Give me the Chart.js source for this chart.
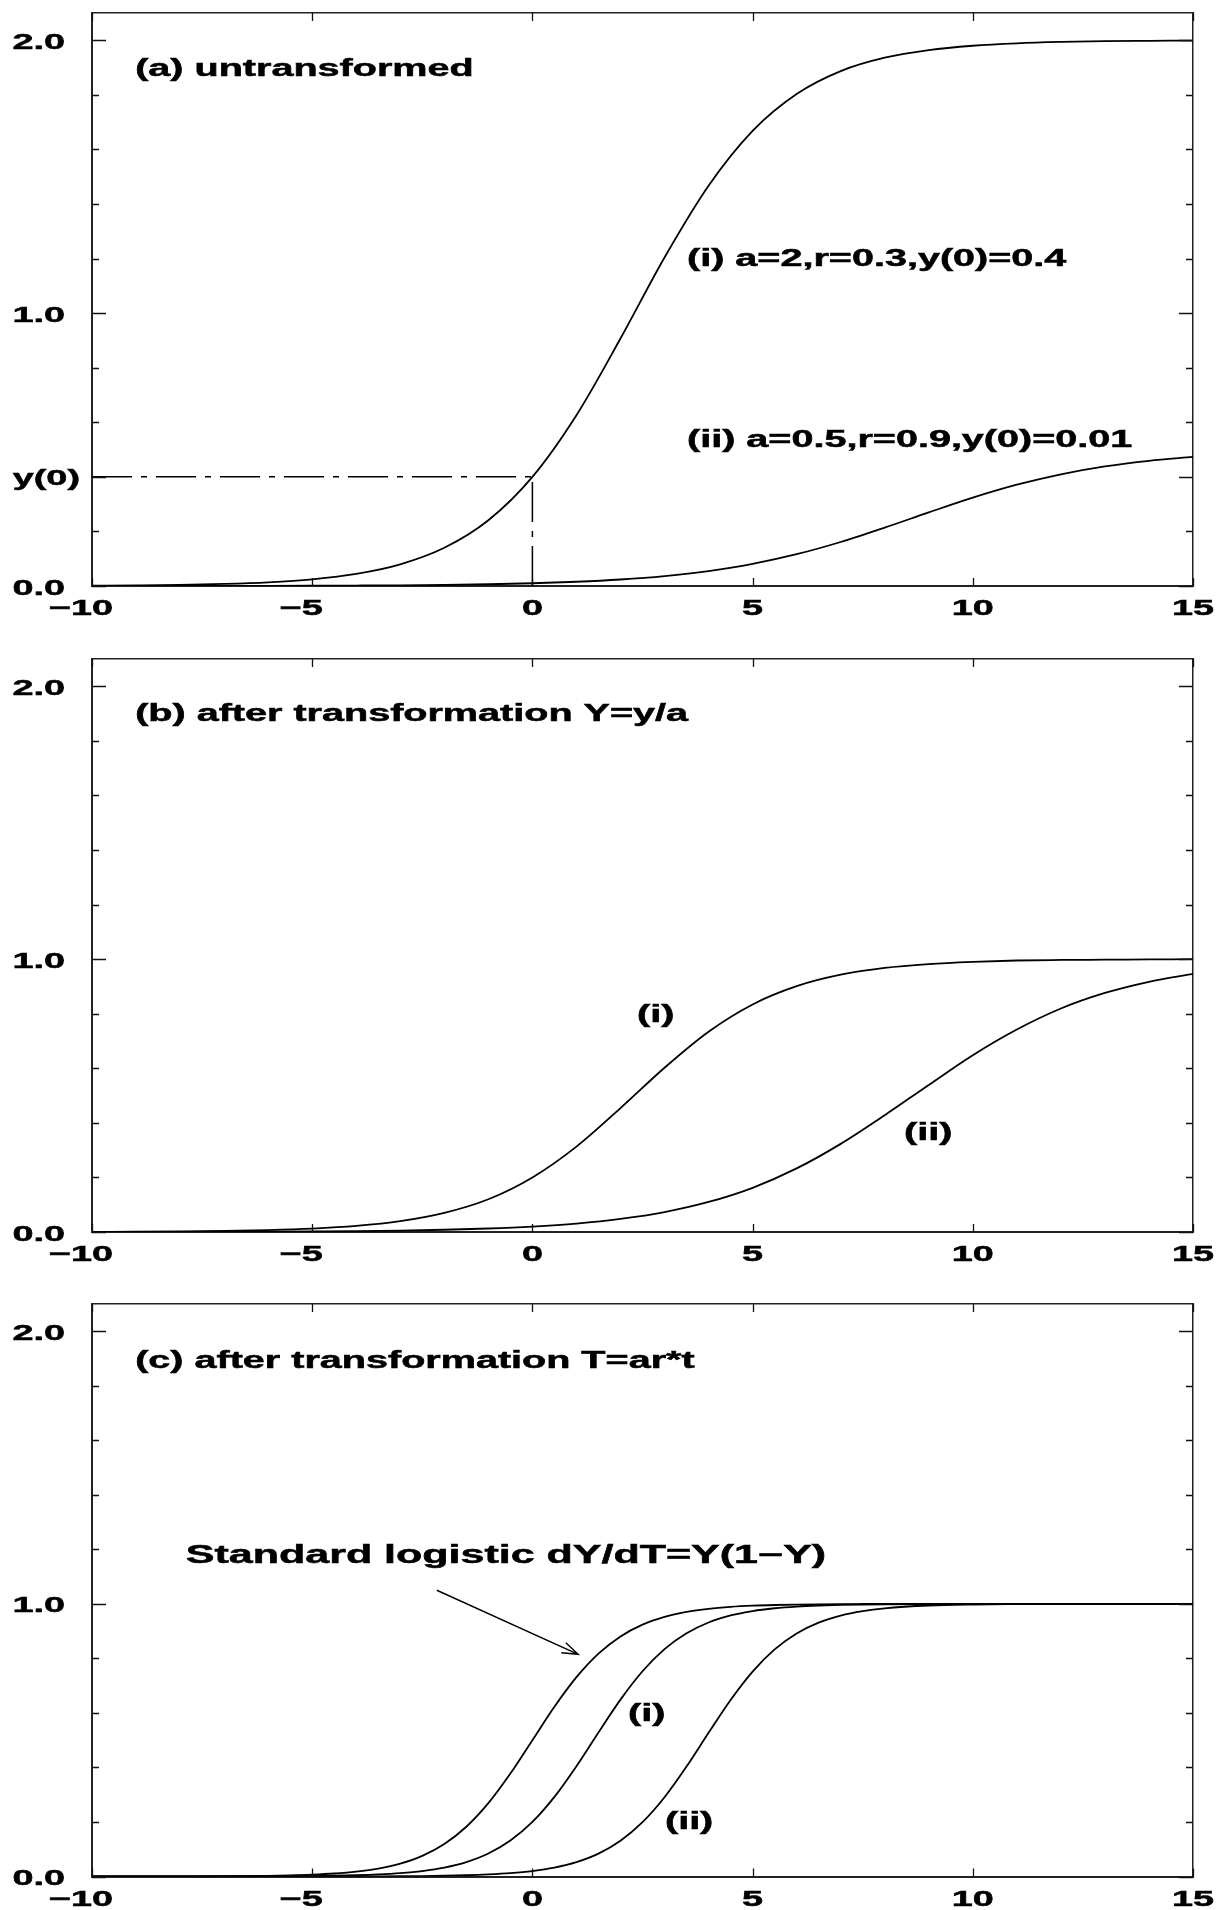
<!DOCTYPE html>
<html>
<head>
<meta charset="utf-8">
<style>
  html, body { margin: 0; padding: 0; background: #fff; overflow: hidden; }
  #wrap { position: relative; width: 1227px; height: 1910px; overflow: hidden; }
  .panel { position: absolute; left: 0; }
</style>
</head>
<body>
<div id="wrap">
  <canvas id="chartA" class="panel" style="top:0px" width="1227" height="646"></canvas>
  <canvas id="chartB" class="panel" style="top:646px" width="1227" height="646"></canvas>
  <canvas id="chartC" class="panel" style="top:1291px" width="1227" height="619"></canvas>
</div>

<script src="https://cdn.jsdelivr.net/npm/chart.js"></script>
<script>
// time axis, one sample per unit
const tValues = [-10, -9, -8, -7, -6, -5, -4, -3, -2, -1, 0, 1, 2, 3, 4, 5, 6, 7, 8, 9, 10, 11, 12, 13, 14, 15];

// (a) untransformed curves
const yA1 = [0.0012, 0.0023, 0.0041, 0.0075, 0.0136, 0.0246, 0.0444, 0.0794, 0.140, 0.241, 0.400, 0.626, 0.907,
             1.204, 1.467, 1.668, 1.803, 1.887, 1.936, 1.964, 1.980, 1.989, 1.994, 1.997, 1.998, 1.999];
const yA2 = [0.0001, 0.0002, 0.0003, 0.0004, 0.0007, 0.0011, 0.0017, 0.0026, 0.0041, 0.0064, 0.0100, 0.0155, 0.0239,
             0.0365, 0.0549, 0.0811, 0.1165, 0.1613, 0.2138, 0.2697, 0.3238, 0.3712, 0.4094, 0.4382, 0.4587, 0.4729];
const y0Value = 0.4;

// (b) Y = y/a
const yB1 = [0.0006, 0.0011, 0.0021, 0.0037, 0.0068, 0.0123, 0.0222, 0.0397, 0.070, 0.120, 0.200, 0.313, 0.454,
             0.602, 0.734, 0.834, 0.901, 0.943, 0.968, 0.982, 0.990, 0.995, 0.997, 0.998, 0.999, 1.000];
const yB2 = [0.0002, 0.0004, 0.0006, 0.0009, 0.0014, 0.0021, 0.0034, 0.0053, 0.0082, 0.0128, 0.020, 0.031, 0.048,
             0.073, 0.110, 0.162, 0.233, 0.323, 0.428, 0.539, 0.648, 0.742, 0.819, 0.876, 0.917, 0.946];

// (c) T = ar*t, denser sampling where the curves are steep
const tC = [-10, -9, -8, -7, -6, -5.5, -5, -4.5, -4, -3.5, -3, -2.5, -2, -1.5, -1, -0.5, 0, 0.5, 1, 1.5, 2, 2.5,
            3, 3.5, 4, 4.5, 5, 5.5, 6, 6.5, 7, 7.5, 8, 9, 10, 11, 12, 13, 14, 15];
const yStd = [0.0000, 0.0001, 0.0003, 0.0009, 0.0025, 0.0041, 0.0067, 0.0110, 0.0180, 0.0293, 0.0474, 0.0759,
              0.1192, 0.1824, 0.2689, 0.3775, 0.5000, 0.6225, 0.7311, 0.8176, 0.8808, 0.9241, 0.9526, 0.9707,
              0.9820, 0.9890, 0.9933, 0.9959, 0.9975, 0.9985, 0.9991, 0.9995, 0.9997, 0.9999, 1.0, 1.0, 1.0, 1.0, 1.0, 1.0];
const yC1 = [0.0000, 0.0000, 0.0001, 0.0002, 0.0006, 0.0010, 0.0017, 0.0028, 0.0046, 0.0075, 0.0123, 0.0201,
             0.0327, 0.0528, 0.0842, 0.1317, 0.2000, 0.2919, 0.4046, 0.5284, 0.6488, 0.7528, 0.8339, 0.8922,
             0.9317, 0.9574, 0.9738, 0.9839, 0.9902, 0.9940, 0.9964, 0.9978, 0.9987, 0.9995, 0.9998, 0.9999, 1.0, 1.0, 1.0, 1.0];
const yC2 = [0.0000, 0.0000, 0.0000, 0.0000, 0.0001, 0.0001, 0.0001, 0.0002, 0.0004, 0.0006, 0.0010, 0.0017,
             0.0028, 0.0045, 0.0075, 0.0122, 0.0200, 0.0326, 0.0526, 0.0838, 0.1310, 0.1991, 0.2907, 0.4032,
             0.5270, 0.6475, 0.7517, 0.8331, 0.8917, 0.9314, 0.9572, 0.9736, 0.9838, 0.9940, 0.9978, 0.9992, 0.9997, 0.9999, 1.0, 1.0];

// ticks
const xTicks = [-10, -5, 0, 5, 10, 15];
const yTicks = [0, 0.2, 0.4, 0.6, 0.8, 1.0, 1.2, 1.4, 1.6, 1.8, 2.0];
const yLabelValues = [0, 1, 2];
const yLabelTexts = ['0.0', '1.0', '2.0'];

const SX = 1.72;   // wide lettering
const FONT = '"Liberation Sans", Arial, Helvetica, sans-serif';

function toPoints(xs, ys) {
  return xs.map((x, i) => ({ x: x, y: ys[i] }));
}

function wideText(ctx, text, x, y, size, align) {
  ctx.save();
  ctx.font = 'bold ' + size + 'px ' + FONT;
  ctx.fillStyle = '#000';
  ctx.strokeStyle = '#000';
  ctx.lineWidth = 0.5;
  ctx.textBaseline = 'alphabetic';
  ctx.textAlign = 'left';
  const w = ctx.measureText(text).width * SX;
  let left = x;
  if (align === 'right') left = x - w;
  else if (align === 'center') left = x - w / 2;
  ctx.translate(left, y);
  ctx.scale(SX, 1);
  ctx.fillText(text, 0, 0);
  ctx.strokeText(text, 0, 0);
  ctx.restore();
  return w;
}

// inward ticks, tick labels, notes and arrow
const framePlugin = {
  id: 'frame',
  afterDraw(chart, args, opts) {
    const { ctx, chartArea: a, scales: { x, y } } = chart;
    const labels = opts.yLabels || [];
    ctx.save();
    ctx.strokeStyle = '#111';
    ctx.lineWidth = 1.3;
    ctx.beginPath();
    yTicks.forEach(v => {
      const py = Math.round(y.getPixelForValue(v)) + 0.5;
      const major = labels.some(l => Math.abs(l.value - v) < 1e-6);
      const len = major ? 14 : 7;
      ctx.moveTo(a.left, py); ctx.lineTo(a.left + len, py);
      ctx.moveTo(a.right, py); ctx.lineTo(a.right - len, py);
    });
    xTicks.forEach(v => {
      const px = Math.round(x.getPixelForValue(v)) + 0.5;
      ctx.moveTo(px, a.bottom); ctx.lineTo(px, a.bottom - 8);
      ctx.moveTo(px, a.top); ctx.lineTo(px, a.top + 8);
    });
    ctx.stroke();
    ctx.restore();

    // y labels
    labels.forEach(l => {
      const py = y.getPixelForValue(l.value);
      wideText(ctx, l.text, a.left - l.gap, py + 8.5, 22, 'right');
    });

    // x labels, digits centred on the tick
    xTicks.forEach(v => {
      const px = x.getPixelForValue(v);
      ctx.save();
      ctx.font = 'bold 22px ' + FONT;
      const w = ctx.measureText(String(Math.abs(v))).width * SX;
      ctx.restore();
      const txt = v < 0 ? '\u2212' + Math.abs(v) : String(v);
      wideText(ctx, txt, px + w / 2, a.bottom + 29, 22, 'right');
    });

    // panel notes
    (opts.notes || []).forEach(n => {
      wideText(ctx, n.text, x.getPixelForValue(n.x), y.getPixelForValue(n.y), n.size || 23, 'left');
    });

    // arrow
    if (opts.arrow) {
      const x1 = x.getPixelForValue(opts.arrow.from[0]), y1 = y.getPixelForValue(opts.arrow.from[1]);
      const x2 = x.getPixelForValue(opts.arrow.to[0]), y2 = y.getPixelForValue(opts.arrow.to[1]);
      const ang = Math.atan2(y2 - y1, x2 - x1);
      const head = 17, spread = 0.33;
      ctx.save();
      ctx.strokeStyle = '#000';
      ctx.lineWidth = 1.4;
      ctx.beginPath();
      ctx.moveTo(x1, y1); ctx.lineTo(x2, y2);
      ctx.moveTo(x2 - head * Math.cos(ang - spread), y2 - head * Math.sin(ang - spread));
      ctx.lineTo(x2, y2);
      ctx.lineTo(x2 - head * Math.cos(ang + spread), y2 - head * Math.sin(ang + spread));
      ctx.stroke();
      ctx.restore();
    }
  }
};

function curve(xs, ys) {
  return {
    data: toPoints(xs, ys),
    borderColor: '#000',
    borderWidth: 1.8,
    pointRadius: 0,
    fill: false,
    cubicInterpolationMode: 'monotone'
  };
}

function guide(points) {
  return {
    data: points,
    borderColor: '#000',
    borderWidth: 1.5,
    borderDash: [40, 9, 6, 9],
    pointRadius: 0,
    fill: false,
    tension: 0
  };
}

function axis(pos, width) {
  const horiz = pos === 'top' || pos === 'bottom';
  return {
    type: 'linear',
    position: pos,
    min: horiz ? -10 : 0,
    max: horiz ? 15 : 2.1,
    grid: { display: false, drawTicks: false },
    border: { display: true, color: '#222', width: width },
    ticks: { display: false },
    afterFit: s => { if (horiz) s.height = 0; else s.width = 0; }
  };
}

function makeChart(id, datasets, bottomPad, frameOpts) {
  return new Chart(document.getElementById(id), {
    type: 'line',
    data: { datasets: datasets },
    options: {
      responsive: false,
      animation: false,
      events: [],
      layout: { padding: { left: 92, right: 34, top: 13, bottom: bottomPad } },
      scales: {
        x: axis('bottom', 2),
        x2: axis('top', 1.5),
        y: axis('left', 2),
        y2: axis('right', 1.5)
      },
      plugins: {
        legend: { display: false },
        tooltip: { enabled: false },
        frame: frameOpts
      }
    },
    plugins: [framePlugin]
  });
}

const numLabels = yLabelValues.map((v, i) => ({ value: v, text: yLabelTexts[i], gap: 27 }));

makeChart('chartA', [
  curve(tValues, yA1),
  curve(tValues, yA2),
  guide([{ x: -10, y: y0Value }, { x: 0, y: y0Value }]),
  guide([{ x: 0, y: 0 }, { x: 0, y: y0Value }])
], 60, {
  yLabels: numLabels.concat([{ value: y0Value, text: 'y(0)', gap: 12 }]),
  notes: [
    { text: '(a) untransformed', x: -9.02, y: 1.87 },
    { text: '(i) a=2,r=0.3,y(0)=0.4', x: 3.51, y: 1.173 },
    { text: '(ii) a=0.5,r=0.9,y(0)=0.01', x: 3.51, y: 0.51 }
  ]
});

makeChart('chartB', [
  curve(tValues, yB1),
  curve(tValues, yB2)
], 60, {
  yLabels: numLabels,
  notes: [
    { text: '(b) after transformation Y=y/a', x: -9.02, y: 1.872 },
    { text: '(i)', x: 2.375, y: 0.771 },
    { text: '(ii)', x: 8.44, y: 0.338 }
  ]
});

makeChart('chartC', [
  curve(tC, yStd),
  curve(tC, yC1),
  curve(tC, yC2)
], 33.5, {
  yLabels: numLabels,
  notes: [
    { text: '(c) after transformation T=ar*t', x: -9.02, y: 1.867 },
    { text: 'Standard logistic dY/dT=Y(1\u2212Y)', x: -7.87, y: 1.151, size: 25 },
    { text: '(i)', x: 2.17, y: 0.571 },
    { text: '(ii)', x: 3.01, y: 0.174 }
  ],
  arrow: { from: [-2.17, 1.05], to: [1.04, 0.815] }
});
</script>
</body>
</html>
